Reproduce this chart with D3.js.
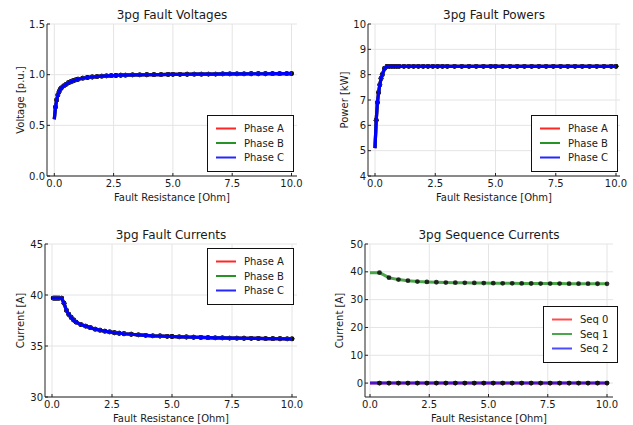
<!DOCTYPE html>
<html>
<head>
<meta charset="utf-8">
<script src="https://cdn.jsdelivr.net/npm/d3@7"></script>
<style>
  html, body { margin: 0; padding: 0; background: #fff; }
  svg { display: block; font-family: "DejaVu Sans", sans-serif; }
</style>
</head>
<body>
<svg id="chart" width="633" height="425"></svg>
<script>
// ---------------- DATA ----------------
const resistance = [0, 0.05, 0.1, 0.15, 0.2, 0.25, 0.3, 0.4, 0.5, 0.6, 0.7, 0.8, 0.9, 1.0,
  1.2, 1.4, 1.6, 1.8, 2.0, 2.2, 2.4, 2.6, 2.8, 3.0, 3.3, 3.6, 3.9, 4.2, 4.5, 4.8, 5.0,
  5.3, 5.6, 5.9, 6.2, 6.5, 6.8, 7.1, 7.4, 7.7, 8.0, 8.3, 8.6, 8.9, 9.2, 9.5, 9.8, 10.0];

const voltage = [0.56, 0.68, 0.75, 0.80, 0.83, 0.855, 0.87, 0.89, 0.905, 0.92, 0.93, 0.94, 0.948, 0.955,
  0.965, 0.972, 0.977, 0.981, 0.985, 0.988, 0.990, 0.992, 0.994, 0.995, 0.997, 0.998, 0.999, 1.000, 1.001, 1.002, 1.003,
  1.003, 1.004, 1.005, 1.005, 1.006, 1.006, 1.007, 1.007, 1.008, 1.008, 1.009, 1.009, 1.009, 1.010, 1.010, 1.011, 1.011];

const power = [5.1, 6.2, 6.9, 7.3, 7.6, 7.85, 8.0, 8.25, 8.33, 8.33, 8.33, 8.33, 8.33, 8.33,
  8.33, 8.33, 8.33, 8.33, 8.33, 8.33, 8.33, 8.33, 8.33, 8.33, 8.33, 8.33, 8.33, 8.33, 8.33, 8.33, 8.33,
  8.33, 8.33, 8.33, 8.33, 8.33, 8.33, 8.33, 8.33, 8.33, 8.33, 8.33, 8.33, 8.33, 8.33, 8.33, 8.33, 8.33];

const current = [39.7, 39.7, 39.7, 39.7, 39.7, 39.7, 39.7, 39.7, 39.2, 38.5, 38.1, 37.8, 37.55, 37.35,
  37.1, 36.95, 36.8, 36.65, 36.55, 36.45, 36.38, 36.3, 36.25, 36.2, 36.15, 36.1, 36.05, 36.0, 35.98, 35.95, 35.93,
  35.9, 35.88, 35.86, 35.84, 35.82, 35.8, 35.79, 35.78, 35.77, 35.76, 35.75, 35.74, 35.73, 35.72, 35.71, 35.7, 35.7];

const seqResistance = [0, 0.4, 0.8, 1.2, 1.6, 2.0, 2.4, 2.8, 3.2, 3.6, 4.0, 4.4, 4.8, 5.2,
  5.6, 6.0, 6.4, 6.8, 7.2, 7.6, 8.0, 8.4, 8.8, 9.2, 9.6, 10.0];
const seq0 = [0, 0, 0, 0, 0, 0, 0, 0, 0, 0, 0, 0, 0, 0, 0, 0, 0, 0, 0, 0, 0, 0, 0, 0, 0, 0];
const seq1 = [39.7, 39.7, 37.9, 37.2, 36.8, 36.5, 36.35, 36.25, 36.15, 36.1, 36.05, 36.0, 35.95, 35.92,
  35.88, 35.85, 35.83, 35.8, 35.79, 35.77, 35.76, 35.75, 35.73, 35.72, 35.71, 35.7];
const seq2 = [0, 0, 0, 0, 0, 0, 0, 0, 0, 0, 0, 0, 0, 0, 0, 0, 0, 0, 0, 0, 0, 0, 0, 0, 0, 0];

const xTicks = [0, 2.5, 5, 7.5, 10];
const phaseNames = ["Phase A", "Phase B", "Phase C"];
const seqNames = ["Seq 0", "Seq 1", "Seq 2"];
const titles = ["3pg Fault Voltages", "3pg Fault Powers", "3pg Fault Currents", "3pg Sequence Currents"];
const yLabels = ["Voltage [p.u.]", "Power [kW]", "Current [A]", "Current [A]"];
const xLabel = "Fault Resistance [Ohm]";

// ---------------- LAYOUT ----------------
const panels = [
  { title: titles[0], ylabel: yLabels[0], rect: [47, 297, 24, 176], x0: 54.3, x10: 291.5,
    ydom: [0, 1.5], yticks: [0, 0.5, 1.0, 1.5], yfmt: d3.format(".1f"),
    xs: resistance, series: [voltage, voltage, voltage], names: phaseNames, kind: "phase",
    legend: [207, 115, 86], ylabX: 24 },
  { title: titles[1], ylabel: yLabels[1], rect: [368, 620, 24, 176], x0: 375, x10: 616,
    ydom: [4, 10], yticks: [4, 5, 6, 7, 8, 9, 10], yfmt: d3.format("d"),
    xs: resistance, series: [power, power, power], names: phaseNames, kind: "phase",
    legend: [531, 115, 86], ylabX: 347.5 },
  { title: titles[2], ylabel: yLabels[2], rect: [45, 297, 244, 397], x0: 52, x10: 292,
    ydom: [30, 45], yticks: [30, 35, 40, 45], yfmt: d3.format("d"),
    xs: resistance, series: [current, current, current], names: phaseNames, kind: "phase",
    legend: [207, 248, 86], ylabX: 23.5 },
  { title: titles[3], ylabel: yLabels[3], rect: [365, 613, 244, 397], x0: 370, x10: 607,
    ydom: [-5, 50], yticks: [0, 10, 20, 30, 40, 50], yfmt: d3.format("d"),
    xs: seqResistance, series: [seq0, seq1, seq2], names: seqNames, kind: "seq",
    legend: [543, 306, 74], ylabX: 342.5 }
];

const colors = ["#ff0000", "#008000", "#0000ff"];
const svg = d3.select("#chart");
const txt = "#1a1a1a";

panels.forEach(p => {
  const [L, R, T, B] = p.rect;
  const x = d3.scaleLinear().domain([0, 10]).range([p.x0, p.x10]);
  const y = d3.scaleLinear().domain(p.ydom).range([B, T]);
  const g = svg.append("g");

  // grid
  g.selectAll(".gx").data(xTicks).enter().append("line")
    .attr("x1", d => x(d)).attr("x2", d => x(d)).attr("y1", T).attr("y2", B)
    .attr("stroke", "#e4e4e4").attr("stroke-width", 1);
  g.selectAll(".gy").data(p.yticks).enter().append("line")
    .attr("x1", L).attr("x2", R).attr("y1", d => y(d)).attr("y2", d => y(d))
    .attr("stroke", "#e4e4e4").attr("stroke-width", 1);

  // axes lines
  g.append("line").attr("x1", L).attr("x2", R).attr("y1", B).attr("y2", B)
    .attr("stroke", "#222").attr("stroke-width", 1);
  g.append("line").attr("x1", L).attr("x2", L).attr("y1", T).attr("y2", B)
    .attr("stroke", "#222").attr("stroke-width", 1);
  // tick marks (inward)
  g.selectAll(".tx").data(xTicks).enter().append("line")
    .attr("x1", d => x(d)).attr("x2", d => x(d)).attr("y1", B).attr("y2", B - 3)
    .attr("stroke", "#222");
  g.selectAll(".ty").data(p.yticks).enter().append("line")
    .attr("x1", L).attr("x2", L + 3).attr("y1", d => y(d)).attr("y2", d => y(d))
    .attr("stroke", "#222");

  // tick labels
  g.selectAll(".lx").data(xTicks).enter().append("text")
    .attr("x", d => x(d)).attr("y", B + 10.5)
    .attr("text-anchor", "middle").attr("font-size", 10).attr("fill", txt)
    .text(d => d3.format(".1f")(d));
  g.selectAll(".ly").data(p.yticks).enter().append("text")
    .attr("x", L - 2).attr("y", d => y(d) + 3.5)
    .attr("text-anchor", "end").attr("font-size", 10).attr("fill", txt)
    .text(d => p.yfmt(d));

  // title
  g.append("text").attr("x", (L + R) / 2).attr("y", T - 5)
    .attr("text-anchor", "middle").attr("font-size", 12).attr("fill", txt).text(p.title);
  // x label
  g.append("text").attr("x", (L + R) / 2).attr("y", B + 24.5)
    .attr("text-anchor", "middle").attr("font-size", 10).attr("fill", txt).text(xLabel);
  // y label
  g.append("text").attr("transform", `translate(${p.ylabX},${(T + B) / 2}) rotate(-90)`)
    .attr("text-anchor", "middle").attr("font-size", 10).attr("fill", txt).text(p.ylabel);

  const line = d3.line().x((d, i) => x(p.xs[i])).y(d => y(d));
  const drawMarkers = (vals) => {
    g.selectAll(null).data(vals.map((v, i) => [p.xs[i], v]).filter((d, i) => i > 0))
      .enter().append("circle")
      .attr("cx", d => x(d[0])).attr("cy", d => y(d[1])).attr("r", 2.4)
      .attr("fill", "#111").attr("fill-opacity", 0.85);
  };

  if (p.kind === "phase") {
    p.series.forEach(s => drawMarkers(s));
    p.series.forEach((s, i) => {
      g.append("path").datum(s).attr("d", line).attr("fill", "none")
        .attr("stroke", colors[i]).attr("stroke-width", 3.2)
        .attr("stroke-linejoin", "round").attr("stroke-linecap", "butt");
    });
  } else {
    p.series.forEach((s, i) => {
      g.append("path").datum(s).attr("d", line).attr("fill", "none")
        .attr("stroke", colors[i]).attr("stroke-width", 3).attr("stroke-opacity", 0.7)
        .attr("stroke-linejoin", "round");
    });
    p.series.forEach(s => drawMarkers(s));
  }

  // legend
  const [lx, ly, lw] = p.legend;
  const lg = g.append("g");
  lg.append("rect").attr("x", lx + 0.5).attr("y", ly + 0.5).attr("width", lw).attr("height", 56)
    .attr("fill", "#fff").attr("stroke", "#111").attr("stroke-width", 1);
  p.names.forEach((n, i) => {
    const yy = ly + 13.5 + i * 14.5;
    lg.append("line").attr("x1", lx + 9).attr("x2", lx + 29).attr("y1", yy).attr("y2", yy)
      .attr("stroke", colors[i]).attr("stroke-width", 2)
      .attr("stroke-opacity", p.kind === "seq" ? 0.7 : 0.85);
    lg.append("text").attr("x", lx + 37).attr("y", yy + 3.5)
      .attr("font-size", 10).attr("fill", txt).text(n);
  });
});
</script>
</body>
</html>
